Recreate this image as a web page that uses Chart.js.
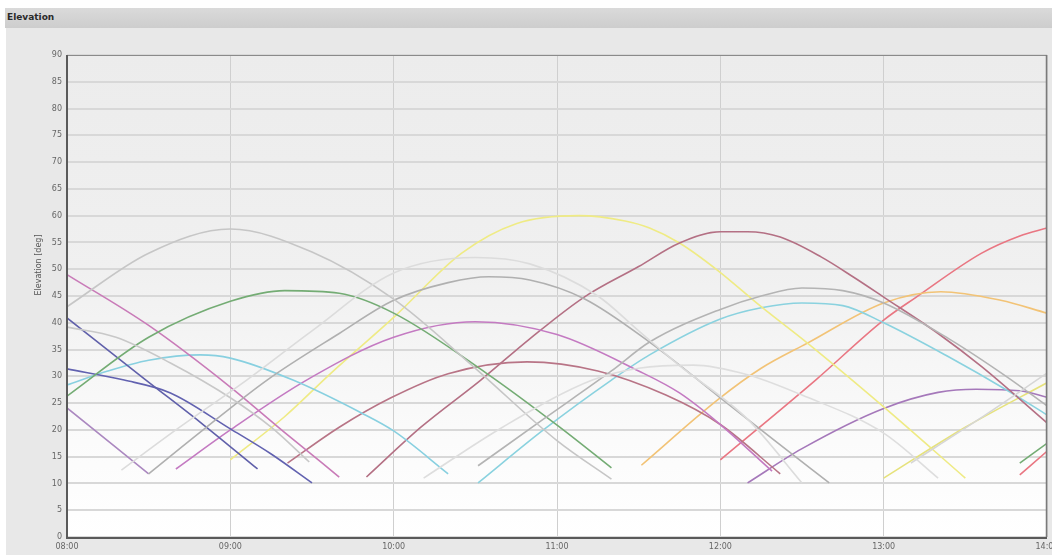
<!DOCTYPE html>
<html>
<head>
<meta charset="utf-8">
<script src="https://cdn.jsdelivr.net/npm/chart.js@4/dist/chart.umd.min.js"></script>
<style>
  html, body { margin: 0; padding: 0; background: #fff; width: 1052px; height: 555px; overflow: hidden; }
  #hdr {
    position: absolute; left: 5px; top: 8px; width: 1047px; height: 20px;
    background: linear-gradient(#dadada, #cdcdcd);
    font: bold 9px "DejaVu Sans", sans-serif; color: #2a2a2a;
    line-height: 19px; padding-left: 2px; box-sizing: border-box;
  }
  #wrap { position: absolute; left: 6px; top: 28px; width: 1046px; height: 527px; }
</style>
</head>
<body>
<div id="hdr">Elevation</div>
<div id="wrap"><canvas id="c" width="1046" height="527"></canvas></div>
<script>
// Time axis runs in minutes after 08:00; one tick label per hour.
const hourLabels = ['08:00', '09:00', '10:00', '11:00', '12:00', '13:00', '14:00'];
const elevTicks = [0, 5, 10, 15, 20, 25, 30, 35, 40, 45, 50, 55, 60, 65, 70, 75, 80, 85, 90];

// Satellite passes: minutes after 08:00 and elevation in degrees.
const passLightDescT = [0, 18, 38, 60, 75, 89];
const passLightDescE = [39.2, 37.3, 32.5, 26, 20.5, 14];
const passGrayAT = [0, 30, 60, 90, 120, 150, 180, 200];
const passGrayAE = [43, 53, 57.5, 53.2, 44.4, 31.5, 18, 10.8];
const passGreenT = [0, 30, 60, 80, 100, 120, 154, 181, 200];
const passGreenE = [26.3, 37.3, 44, 46, 45.5, 41.8, 30.6, 20.5, 12.9];
const passPinkDescT = [0, 30, 60, 80, 100];
const passPinkDescE = [49, 39.5, 28, 19.5, 11.2];
const passNavy1T = [0, 29, 50, 70];
const passNavy1E = [40.9, 29.3, 21, 12.7];
const passNavy2T = [0, 21, 38, 60, 75, 90];
const passNavy2E = [31.4, 29.3, 26.9, 20.2, 15.5, 10.1];
const passPurple1T = [0, 30];
const passPurple1E = [24.1, 11.8];
const passCyan1T = [0, 15, 30, 49, 60, 83, 108, 120, 140];
const passCyan1E = [28.4, 31, 33, 34, 33.4, 29.3, 23.2, 19.8, 11.8];
const passGray1T = [30, 50, 73.5, 100, 120, 140, 155, 170, 190, 214, 240, 260, 280];
const passGray1E = [11.8, 20, 29.3, 38, 44.2, 47.5, 48.6, 48, 44.5, 36.4, 26, 18, 10.1];
const passFaint1T = [20, 40, 66, 90, 120, 150, 170, 195, 210, 225, 250, 270];
const passFaint1E = [12.5, 20, 29.3, 38.5, 49.3, 52.2, 51, 45, 38.5, 32, 22, 10.1];
const passMagentaT = [40, 60, 88, 120, 150, 180, 210, 225, 240, 259];
const passMagentaE = [12.7, 20, 29.3, 37.3, 40.2, 37.8, 31, 26.9, 21, 12.3];
const passMauveLowT = [81, 100, 119, 140, 169, 195, 220, 240, 262];
const passMauveLowE = [13.8, 20.5, 26, 30.5, 32.7, 31, 26.5, 21, 11.8];
const passMauveHighT = [110, 130, 152, 170, 190, 210, 225, 240, 250, 262, 277, 289, 300, 320, 336, 360];
const passMauveHighE = [11.2, 20.5, 29.3, 37, 44.8, 50.5, 54.9, 57, 57, 56, 52.3, 48.5, 44.8, 38, 31.8, 21.3];
const passYellowT = [60, 80, 97, 120, 145, 165, 188, 205, 214, 225, 239, 255, 272, 300, 330];
const passYellowE = [14.4, 22.5, 30.6, 41, 53, 58.5, 60, 59, 57.7, 54.9, 49.8, 43, 36.2, 24.3, 11];
const passCyan2T = [151, 175, 200, 214, 240, 255, 270, 285, 300, 324, 345, 360];
const passCyan2E = [10.1, 20, 29.3, 34, 40.7, 42.8, 43.7, 43.2, 40, 33.6, 27.5, 22.8];
const passGray2T = [151, 175, 200, 214, 240, 255, 270, 285, 300, 324, 345, 360];
const passGray2E = [13.3, 22, 31, 36.4, 42.5, 45, 46.5, 46, 43.7, 37, 30, 24.5];
const passFaint2T = [131, 160, 193, 210, 230, 250, 270, 300, 320];
const passFaint2E = [11, 20.5, 29.3, 31.5, 32.1, 30.3, 26.5, 19.4, 11];
const passOrangeT = [211, 239, 255, 272, 300, 321, 343, 360];
const passOrangeE = [13.4, 25.6, 31.5, 36.2, 43.7, 45.8, 44.2, 41.8];
const passRedT = [240, 275, 300, 312, 336, 350, 360];
const passRedE = [14.4, 29.3, 40.5, 44.8, 53, 56.2, 57.7];
const passPurple2T = [250, 270, 300, 320, 334, 350, 360];
const passPurple2E = [10.1, 16.5, 24, 27, 27.6, 27.3, 26.1];
const passYellow2T = [300, 330, 360];
const passYellow2E = [11, 20.5, 28.8];
const passFaint3T = [310, 335, 360];
const passFaint3E = [13.8, 22, 30.6];
const passGreen2T = [350, 360];
const passGreen2E = [13.8, 17.5];
const passRed2T = [350, 360];
const passRed2E = [11.6, 16];

// Drawing order and line colour for each pass.
const passes = [
  [passFaint1T, passFaint1E, '#dcdcdc'],
  [passFaint2T, passFaint2E, '#dedede'],
  [passFaint3T, passFaint3E, '#d6d6d6'],
  [passLightDescT, passLightDescE, '#c8c8c8'],
  [passGrayAT, passGrayAE, '#c6c6c6'],
  [passGray1T, passGray1E, '#b0b0b0'],
  [passGray2T, passGray2E, '#b4b4b4'],
  [passGreenT, passGreenE, '#74ac74'],
  [passPinkDescT, passPinkDescE, '#c97bb8'],
  [passNavy1T, passNavy1E, '#6060aa'],
  [passNavy2T, passNavy2E, '#6262b0'],
  [passPurple1T, passPurple1E, '#ab88c0'],
  [passCyan1T, passCyan1E, '#88d0e0'],
  [passMagentaT, passMagentaE, '#c47ac2'],
  [passMauveLowT, passMauveLowE, '#b87486'],
  [passMauveHighT, passMauveHighE, '#b47084'],
  [passYellowT, passYellowE, '#efeb84'],
  [passCyan2T, passCyan2E, '#8ad2df'],
  [passOrangeT, passOrangeE, '#f2c376'],
  [passRedT, passRedE, '#e97682'],
  [passPurple2T, passPurple2E, '#a578ba'],
  [passYellow2T, passYellow2E, '#e6e27c'],
  [passGreen2T, passGreen2E, '#74ac74'],
  [passRed2T, passRed2E, '#e97682']
];

const datasets = passes.map(([t, e, col]) => ({
  data: t.map((x, i) => ({ x: x, y: e[i] })),
  borderColor: col,
  borderWidth: 1.6,
  pointRadius: 0,
  fill: false,
  cubicInterpolationMode: 'monotone'
}));

const tickFont = { family: 'DejaVu Sans', size: 8 };

// Panel colour and the soft vertical gradient behind the plot.
const backdrop = {
  id: 'backdrop',
  beforeDraw(chart) {
    const { ctx, chartArea: a, width, height } = chart;
    ctx.save();
    ctx.fillStyle = '#e8e8e8';
    ctx.fillRect(0, 0, width, height);
    const g = ctx.createLinearGradient(0, a.top, 0, a.bottom);
    g.addColorStop(0, '#ececec');
    g.addColorStop(0.45, '#f0f0f0');
    g.addColorStop(0.8, '#fbfbfb');
    g.addColorStop(1, '#ffffff');
    ctx.fillStyle = g;
    ctx.fillRect(a.left, a.top, a.right - a.left, a.bottom - a.top);
    ctx.restore();
  },
  afterDraw(chart) {
    const { ctx, chartArea: a } = chart;
    ctx.save();
    ctx.strokeStyle = '#8a8a8a';
    ctx.lineWidth = 1;
    ctx.strokeRect(a.left + 0.5, a.top + 0.5, a.right - a.left - 1, a.bottom - a.top);
    ctx.strokeStyle = '#5a5a5a';
    ctx.lineWidth = 2;
    ctx.beginPath();
    ctx.moveTo(a.left, a.top);
    ctx.lineTo(a.left, a.bottom + 1);
    ctx.lineTo(a.right, a.bottom + 1);
    ctx.stroke();
    ctx.strokeStyle = '#7a7a7a';
    ctx.lineWidth = 1.5;
    ctx.beginPath();
    ctx.moveTo(a.right - 0.5, a.top);
    ctx.lineTo(a.right - 0.5, a.bottom);
    ctx.stroke();
    // y axis caption
    ctx.translate(33, 237);
    ctx.rotate(-Math.PI / 2);
    ctx.fillStyle = '#555';
    ctx.font = '8px "DejaVu Sans"';
    ctx.textAlign = 'center';
    ctx.textBaseline = 'middle';
    ctx.fillText('Elevation [deg]', 0, 0);
    ctx.restore();
  }
};

new Chart(document.getElementById('c'), {
  type: 'line',
  data: { datasets },
  plugins: [backdrop],
  options: {
    responsive: false,
    animation: false,
    events: [],
    layout: { padding: { top: 27, right: 5, left: 0, bottom: 0 } },
    plugins: { legend: { display: false }, tooltip: { enabled: false } },
    scales: {
      x: {
        type: 'linear',
        min: 0,
        max: 360,
        afterBuildTicks(scale) {
          scale.ticks = hourLabels.map((_, i) => ({ value: i * 60 }));
        },
        afterFit(scale) {
          scale.height = 18;
          scale.paddingLeft = 0;
          scale.paddingRight = 0;
        },
        ticks: {
          autoSkip: false,
          maxRotation: 0,
          padding: 5,
          color: '#666',
          font: tickFont,
          callback: (v) => hourLabels[Math.round(v / 60)]
        },
        grid: { color: '#cfcfcf', lineWidth: 1, drawTicks: false },
        border: { display: false }
      },
      y: {
        min: 0,
        max: 90,
        afterBuildTicks(scale) {
          scale.ticks = elevTicks.map((v) => ({ value: v }));
        },
        afterFit(scale) {
          scale.width = 61;
          scale.paddingTop = 0;
          scale.paddingBottom = 0;
        },
        ticks: { autoSkip: false, padding: 5, color: '#666', font: tickFont },
        grid: { color: '#d8d8d8', lineWidth: 2, drawTicks: false },
        border: { display: false }
      }
    }
  }
});
</script>
</body>
</html>
